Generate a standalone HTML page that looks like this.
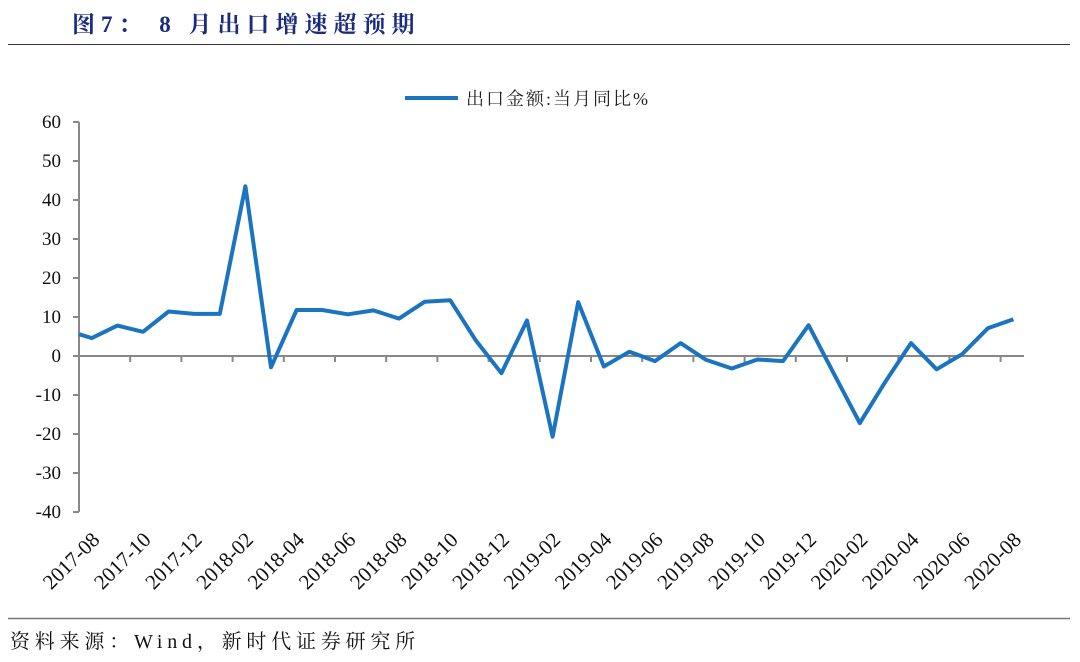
<!DOCTYPE html>
<html><head><meta charset="utf-8"><style>
body{margin:0;background:#fff;width:1080px;height:657px;overflow:hidden}
</style></head><body>
<svg width="1080" height="657" xmlns="http://www.w3.org/2000/svg" font-family="'Liberation Serif','Noto Serif CJK SC',serif">
<text x="72" y="32" font-size="23" font-weight="bold" fill="#1a2a80" letter-spacing="6" font-family="'Liberation Serif','Noto Serif CJK SC',serif">图7：  8 月出口增速超预期</text>
<line x1="8" y1="44.5" x2="1070" y2="44.5" stroke="#333" stroke-width="1"/>
<line x1="8" y1="618.5" x2="1070" y2="618.5" stroke="#777" stroke-width="1.5"/>
<text x="10" y="648" font-size="20" fill="#111" letter-spacing="4.8">资料来源：Wind，新时代证券研究所</text>
<line x1="405" y1="98" x2="458" y2="98" stroke="#1a74c0" stroke-width="4"/>
<text x="466" y="105" font-size="18" fill="#222" letter-spacing="2">出口金额:当月同比%</text>
<g stroke="#888" stroke-width="2">
<line x1="79" y1="122" x2="79" y2="512"/>
<line x1="79" y1="356" x2="1024" y2="356"/>
</g>
<g id="yt" font-size="19" fill="#111" text-anchor="end"></g>
<g id="xt"></g>
<polyline id="ln" fill="none" stroke="#1a74c0" stroke-width="4" stroke-linejoin="round"/>
</svg>
<script>
var ns="http://www.w3.org/2000/svg",svg=document.querySelector('svg');
var yt=document.getElementById('yt'),xt=document.getElementById('xt');
for(var v=60;v>=-40;v-=10){var y=356-v*3.9;
 var l=document.createElementNS(ns,'line');l.setAttribute('x1',73);l.setAttribute('x2',79);l.setAttribute('y1',y);l.setAttribute('y2',y);l.setAttribute('stroke','#888');l.setAttribute('stroke-width',2);xt.appendChild(l);
 var t=document.createElementNS(ns,'text');t.setAttribute('x',61);t.setAttribute('y',y+6);t.textContent=v;yt.appendChild(t);}
var sp=25.6,x0=79;
for(var k=2;k<=36;k+=2){var x=x0+k*sp;var l=document.createElementNS(ns,'line');l.setAttribute('x1',x);l.setAttribute('x2',x);l.setAttribute('y1',356);l.setAttribute('y2',362);l.setAttribute('stroke','#888');l.setAttribute('stroke-width',2);xt.appendChild(l);}
var d=[4.6,7.8,6.2,11.4,10.8,10.8,43.5,-2.9,11.8,11.8,10.7,11.7,9.6,13.9,14.3,4.0,-4.4,9.1,-20.7,13.8,-2.7,1.1,-1.3,3.3,-1.0,-3.2,-0.9,-1.3,7.9,-4.7,-17.2,-6.6,3.3,-3.4,0.5,7.1,9.4];
var pts=[x0+','+(356-5.6*3.9)];
d.forEach(function(v,i){pts.push((x0+sp/2+i*sp).toFixed(1)+','+(356-v*3.9).toFixed(1));});
document.getElementById('ln').setAttribute('points',pts.join(' '));
var m=['2017-08','2017-10','2017-12','2018-02','2018-04','2018-06','2018-08','2018-10','2018-12','2019-02','2019-04','2019-06','2019-08','2019-10','2019-12','2020-02','2020-04','2020-06','2020-08'];
m.forEach(function(s,j){var x=x0+sp/2+j*2*sp+9,y=541;var t=document.createElementNS(ns,'text');t.setAttribute('x',x);t.setAttribute('y',y);t.setAttribute('font-size',21);t.setAttribute('fill','#111');t.setAttribute('text-anchor','end');t.setAttribute('transform','rotate(-45 '+x+' '+y+')');t.textContent=s;svg.appendChild(t);});
</script>
</body></html>
